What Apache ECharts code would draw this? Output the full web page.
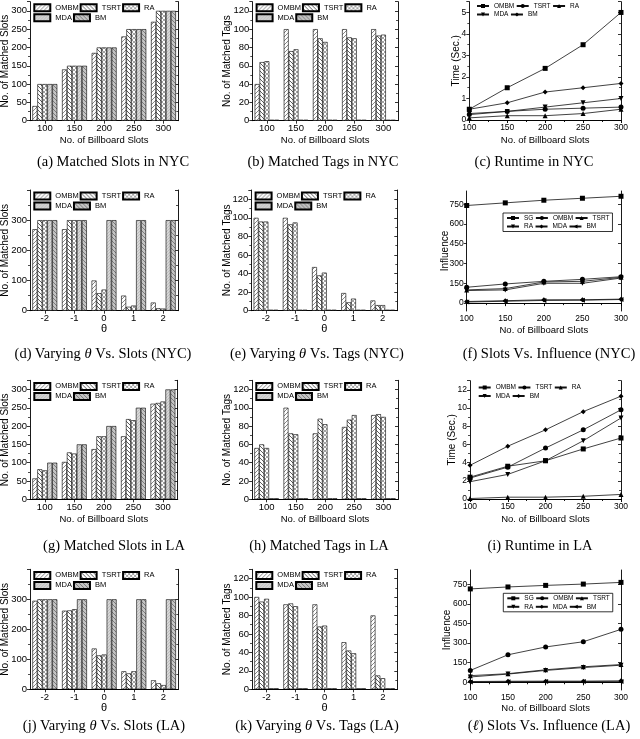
<!DOCTYPE html>
<html><head><meta charset="utf-8">
<script src="https://cdn.jsdelivr.net/npm/echarts@6/dist/echarts.min.js"></script>
<style>
body{margin:0;background:#fff;width:640px;height:739px;position:relative;overflow:hidden}
.p{position:absolute;width:214px;height:162px}
.cap{position:absolute;font-family:'Liberation Serif','DejaVu Serif',serif;font-size:14.5px;color:#000;white-space:nowrap;transform:translate(-50%,-50%);line-height:1}
</style></head><body>
<div class="p" id="a" style="left:0;top:0"></div>
<div class="p" id="b" style="left:213px;top:0"></div>
<div class="p" id="c" style="left:426px;top:0"></div>
<div class="p" id="d" style="left:0;top:185px"></div>
<div class="p" id="e" style="left:213px;top:185px"></div>
<div class="p" id="f" style="left:426px;top:185px"></div>
<div class="p" id="g" style="left:0;top:375px"></div>
<div class="p" id="h" style="left:213px;top:375px"></div>
<div class="p" id="i" style="left:426px;top:375px"></div>
<div class="p" id="j" style="left:0;top:560px"></div>
<div class="p" id="k" style="left:213px;top:560px"></div>
<div class="p" id="l" style="left:426px;top:560px"></div>

<div class="cap" style="left:113px;top:161px">(a) Matched Slots in NYC</div>
<div class="cap" style="left:323px;top:161px">(b) Matched Tags in NYC</div>
<div class="cap" style="left:534px;top:161px">(c) Runtime in NYC</div>
<div class="cap" style="left:103px;top:353px">(d) Varying <i>θ</i> Vs. Slots (NYC)</div>
<div class="cap" style="left:317px;top:353px">(e) Varying <i>θ</i> Vs. Tags (NYC)</div>
<div class="cap" style="left:549px;top:353px">(f) Slots Vs. Influence (NYC)</div>
<div class="cap" style="left:114px;top:545px">(g) Matched Slots in LA</div>
<div class="cap" style="left:319px;top:545px">(h) Matched Tags in LA</div>
<div class="cap" style="left:540px;top:545px">(i) Runtime in LA</div>
<div class="cap" style="left:104px;top:725px">(j) Varying <i>θ</i> Vs. Slots (LA)</div>
<div class="cap" style="left:317px;top:725px">(k) Varying <i>θ</i> Vs. Tags (LA)</div>
<div class="cap" style="left:549px;top:725px">(<i>ℓ</i>) Slots Vs. Influence (LA)</div>

<script>
// ---------- data ----------
const slotCats = ['100','150','200','250','300'];
const thetaCats = ['-2','-1','0','1','2'];
const slotX = [100,150,200,250,300];
const barNames = ['OMBM','TSRT','RA','MDA','BM'];
const runNames = ['OMBM','TSRT','RA','MDA','BM'];
const inflNames = ['SG','OMBM','TSRT','RA','MDA','BM'];
const inflTicks = [0,150,300,450,600,750];

// (a) matched slots NYC
const aOMBM=[40,140,185,230,270], aTSRT=[100,150,200,250,300], aRA=[100,150,200,250,300], aMDA=[100,150,200,250,300], aBM=[100,150,200,250,300];
// (b) matched tags NYC
const bOMBM=[40,100,100,100,100], bTSRT=[64,76,90,91,93], bRA=[65,78,86,90,94], bMDA=[1,1,1,1,1], bBM=[1,1,1,1,1];
// (c) runtime NYC
const cOMBM=[0.5,1.5,2.4,3.5,5.0], cTSRT=[0.25,0.4,0.5,0.55,0.6], cRA=[0.1,0.2,0.2,0.3,0.5], cMDA=[0.3,0.4,0.6,0.8,1.0], cBM=[0.5,0.8,1.3,1.5,1.7];
// (d) theta vs slots NYC
const dOMBM=[270,270,100,50,27], dTSRT=[300,300,58,13,8], dRA=[300,300,70,17,7], dMDA=[300,300,300,300,300], dBM=[300,300,300,300,300];
// (e) theta vs tags NYC
const eOMBM=[100,100,47,19,11], eTSRT=[96,93,38,9,6], eRA=[96,95,41,13,6], eMDA=[1,1,1,1,1], eBM=[1,1,1,1,1];
// (f) influence NYC
const fSG=[740,760,780,795,810], fOMBM=[120,145,165,180,200], fTSRT=[100,110,160,165,195], fRA=[95,100,150,150,190], fMDA=[12,18,25,25,30], fBM=[8,14,20,22,27];
// (g) matched slots LA
const gOMBM=[57,102,137,172,261], gTSRT=[82,128,172,219,263], gRA=[79,125,172,216,267], gMDA=[100,150,200,250,300], gBM=[100,150,200,250,300];
// (h) matched tags LA
const hOMBM=[56,100,72,79,92], hTSRT=[60,72,88,87,93], hRA=[56,71,82,92,90], hMDA=[1,1,1,1,1], hBM=[1,1,1,1,1];
// (i) runtime LA
const iOMBM=[2.4,3.6,4.2,5.5,6.7], iTSRT=[2.3,3.5,5.6,7.6,9.8], iRA=[0.05,0.2,0.2,0.3,0.5], iMDA=[1.9,2.7,4.2,6.4,8.9], iBM=[3.7,5.8,7.6,9.6,11.3];
// (j) theta vs slots LA
const jOMBM=[295,262,136,60,30], jTSRT=[300,263,113,53,20], jRA=[300,267,116,60,14], jMDA=[300,300,300,300,300], jBM=[300,300,300,300,300];
// (k) theta vs tags LA
const kOMBM=[100,92,92,51,80], kTSRT=[95,93,68,42,15], kRA=[98,90,69,39,12], kMDA=[1,1,1,1,1], kBM=[1,1,1,1,1];
// (l) influence LA
const lSG=[715,730,742,752,765], lOMBM=[90,210,270,310,405], lTSRT=[50,65,95,118,135], lRA=[40,62,90,112,130], lMDA=[5,7,8,8,10], lBM=[2,4,5,5,6];

// ---------- styles ----------
const FONT = "'Liberation Sans', Arial, sans-serif";
function pat(bg, s, draw){
  const c=document.createElement('canvas'); c.width=c.height=s;
  const g=c.getContext('2d'); g.fillStyle=bg; g.fillRect(0,0,s,s); draw(g,s);
  return {image:c, repeat:'repeat'};
}
function diag(g,s,dir,color,lw){
  g.strokeStyle=color; g.lineWidth=lw; g.beginPath();
  if(dir==='/'){ g.moveTo(0,s); g.lineTo(s,0); g.moveTo(-1,1); g.lineTo(1,-1); g.moveTo(s-1,s+1); g.lineTo(s+1,s-1); }
  else { g.moveTo(0,0); g.lineTo(s,s); g.moveTo(-1,s-1); g.lineTo(1,s+1); g.moveTo(s-1,-1); g.lineTo(s+1,1); }
  g.stroke();
}
const PATS = [
  pat('#fff',4,(g,s)=>diag(g,s,'/','#555',0.7)),
  pat('#fff',4,(g,s)=>diag(g,s,'\\','#333',0.8)),
  pat('#fff',4,(g,s)=>{diag(g,s,'/','#666',0.6);diag(g,s,'\\','#666',0.6);}),
  pat('#d6d6d6',3,(g,s)=>diag(g,s,'/','#b0b0b0',0.7)),
  pat('#c4c4c4',4,(g,s)=>diag(g,s,'\\','#6a6a6a',0.8))
];
const DOWN='path://M0,0 L10,0 L5,9 Z';
const LEFT='path://M0,5 L9,0 L9,10 Z';
const runSyms=['rect','circle','triangle',DOWN,'diamond'];
const inflSyms=['rect','circle','triangle',DOWN,'diamond',LEFT];

const panels = [
 {id:'a',type:'bar',g:[30,1.7,148.3,119],cats:slotCats,vals:[aOMBM,aTSRT,aRA,aMDA,aBM],ymax:325,yint:50,xName:'No. of Billboard Slots',yName:'No. of Matched Slots',xGap:15,yGap:20},
 {id:'b',type:'bar',g:[39.3,1.7,145.7,119],cats:slotCats,vals:[bOMBM,bTSRT,bRA,bMDA,bBM],ymax:130,yint:20,xName:'No. of Billboard Slots',yName:'No. of Matched Tags',xGap:15,yGap:20},
 {id:'c',type:'line',g:[43.3,1.7,151.7,118.3],names:runNames,syms:runSyms,vals:[cOMBM,cTSRT,cRA,cMDA,cBM],ymin:0,ymax:5.5,yint:1,xName:'No. of Billboard Slots',yName:'Time (Sec.)',xGap:15.5,yGap:8.5,leg:{left:50,top:2.5,w:[20,18,10,20,18],box:false}},
 {id:'d',type:'bar',g:[30,5,148,120.7],cats:thetaCats,vals:[dOMBM,dTSRT,dRA,dMDA,dBM],ymax:400,yint:100,xName:'θ',yName:'No. of Matched Slots',xGap:13,yGap:20},
 {id:'e',type:'bar',g:[38.3,5,146,120.7],cats:thetaCats,vals:[eOMBM,eTSRT,eRA,eMDA,eBM],ymax:130,yint:20,xName:'θ',yName:'No. of Matched Tags',xGap:13,yGap:19.5},
 {id:'f',type:'line',g:[40.7,6,154.3,120],names:inflNames,syms:inflSyms,vals:[fSG,fOMBM,fTSRT,fRA,fMDA,fBM],ymin:-60,ymax:850,custom:inflTicks,xName:'No. of Billboard Slots',yName:'Influence',xGap:14.5,yGap:16,leg:{left:77,top:28,w:[9.5,20,38,9.5,20,38],box:true}},
 {id:'g',type:'bar',g:[30,5.3,147.7,119],cats:slotCats,vals:[gOMBM,gTSRT,gRA,gMDA,gBM],ymax:325,yint:50,xName:'No. of Billboard Slots',yName:'No. of Matched Slots',xGap:15.5,yGap:20},
 {id:'h',type:'bar',g:[39,5.3,146,119],cats:slotCats,vals:[hOMBM,hTSRT,hRA,hMDA,hBM],ymax:130,yint:20,xName:'No. of Billboard Slots',yName:'No. of Matched Tags',xGap:15.5,yGap:20},
 {id:'i',type:'line',g:[44,5.7,151,118.3],names:runNames,syms:runSyms,vals:[iOMBM,iTSRT,iRA,iMDA,iBM],ymin:0,ymax:13,yint:2,xName:'No. of Billboard Slots',yName:'Time (Sec.)',xGap:15.5,yGap:12.5,leg:{left:51.7,top:9,w:[20,18,10,20,18],box:false}},
 {id:'j',type:'bar',g:[30,9.3,148.3,120],cats:thetaCats,vals:[jOMBM,jTSRT,jRA,jMDA,jBM],ymax:400,yint:100,xName:'θ',yName:'No. of Matched Slots',xGap:13.5,yGap:20},
 {id:'k',type:'bar',g:[39,9.3,145.3,120],cats:thetaCats,vals:[kOMBM,kTSRT,kRA,kMDA,kBM],ymax:130,yint:20,xName:'θ',yName:'No. of Matched Tags',xGap:13.5,yGap:20},
 {id:'l',type:'line',g:[44.3,10,150.7,120],names:inflNames,syms:inflSyms,vals:[lSG,lOMBM,lTSRT,lRA,lMDA,lBM],ymin:-60,ymax:860,custom:inflTicks,xName:'No. of Billboard Slots',yName:'Influence',xGap:13.5,yGap:18,leg:{left:77.3,top:33.3,w:[9.5,20,38,9.5,20,38],box:true}}
];

const AXL = {show:true, lineStyle:{color:'#000', width:0.9}};
const TK = {show:true, length:3, lineStyle:{color:'#000', width:0.8}};
const NAME = {color:'#000', fontFamily:FONT, fontSize:9.5};
function lbl(p){ return {color:'#000', fontFamily:FONT, fontSize:p.type==='line'?8.5:9.5}; }

function yAxes(p){
  const left = {type:'value', min:p.ymin||0, max:p.ymax, axisLine:AXL, splitLine:{show:false},
    axisTick:Object.assign({},TK), axisLabel:Object.assign({margin:3},lbl(p)),
    name:p.yName, nameLocation:'middle', nameGap:p.yGap, nameMoveOverlap:false,
    nameTextStyle:Object.assign({},NAME,{fontSize:10})};
  const right = {type:'value', position:'right', min:p.ymin||0, max:p.ymax, axisLine:AXL, splitLine:{show:false},
    axisTick:Object.assign({},TK,{inside:true}), axisLabel:{show:false}};
  if(p.custom){
    left.axisLabel.customValues=p.custom; left.axisTick.customValues=p.custom;
    right.axisTick.customValues=p.custom;
  } else {
    left.interval=p.yint; right.interval=p.yint;
    left.axisLabel.showMaxLabel=false;
    left.minorTick={show:true, splitNumber:2, length:2, lineStyle:{color:'#000',width:0.7}};
    right.minorTick={show:true, splitNumber:2, length:2, lineStyle:{color:'#000',width:0.7}};
  }
  return [left,right];
}

panels.forEach(p=>{
  const chart = echarts.init(document.getElementById(p.id), null, {renderer:'canvas'});
  const [gl,gt,gw,gh] = p.g;
  const grid = {left:gl, top:gt, width:gw, height:gh, containLabel:false, outerBoundsMode:'none'};
  let opt;
  if(p.type==='bar'){
    const w=[22,18,12,22,18];
    opt = {
      animation:false,
      grid:grid,
      legend:{left:gl+3.3, top:gt+1.6, width:135, padding:0, itemGap:1, itemWidth:16, itemHeight:7, icon:'rect',
        textStyle:{fontSize:7.5, fontFamily:FONT, color:'#000'},
        data:barNames.map((n,i)=>({name:n, textStyle:{width:w[i]}}))},
      xAxis:[
        {type:'category', data:p.cats, axisLine:AXL, axisTick:Object.assign({alignWithLabel:true},TK),
         axisLabel:Object.assign({margin:3},lbl(p)), name:p.xName, nameLocation:'middle', nameGap:p.xGap, nameMoveOverlap:false,
         nameTextStyle:Object.assign({}, NAME, p.xName==='θ'?{fontSize:11}:{})},
        {type:'category', position:'top', data:p.cats, axisLine:AXL, axisTick:{show:false}, axisLabel:{show:false}}
      ],
      yAxis:yAxes(p),
      series:barNames.map((n,i)=>({name:n, type:'bar', data:p.vals[i], barGap:'0%', barCategoryGap:'16%',
        itemStyle:{color:PATS[i], borderColor:'#000', borderWidth:0.6}}))
    };
  } else {
    const L=p.leg;
    opt = {
      animation:false,
      grid:grid,
      legend:{left:L.left, top:L.top, width:L.box?123:115, padding:L.box?[1.5,3,1.5,3]:0, itemGap:1.5, itemWidth:12, itemHeight:5,
        borderColor:L.box?'#000':'transparent', borderWidth:L.box?0.8:0,
        textStyle:{fontSize:6.5, fontFamily:FONT, color:'#000'},
        data:p.names.map((n,i)=>({name:n, textStyle:{width:L.w[i]}}))},
      xAxis:[
        {type:'value', min:100, max:300, interval:50, axisLine:AXL, splitLine:{show:false}, axisTick:TK,
         minorTick:{show:true, splitNumber:2, length:2, lineStyle:{color:'#000',width:0.7}},
         axisLabel:Object.assign({margin:3},lbl(p)), name:p.xName, nameLocation:'middle', nameGap:p.xGap, nameMoveOverlap:false, nameTextStyle:NAME},
        {type:'value', position:'top', min:100, max:300, interval:50, axisLine:AXL, splitLine:{show:false},
         axisTick:Object.assign({},TK,{inside:true}), minorTick:{show:true, splitNumber:2, length:2, lineStyle:{color:'#000',width:0.7}}, axisLabel:{show:false}}
      ],
      yAxis:yAxes(p),
      series:p.names.map((n,i)=>({name:n, type:'line', data:slotX.map((x,j)=>[x,p.vals[i][j]]),
        symbol:p.syms[i], symbolSize:5, showAllSymbol:true,
        lineStyle:{color:'#111', width:0.8}, itemStyle:{color:'#000'}}))
    };
  }
  chart.setOption(opt);
});
</script>
</body></html>
